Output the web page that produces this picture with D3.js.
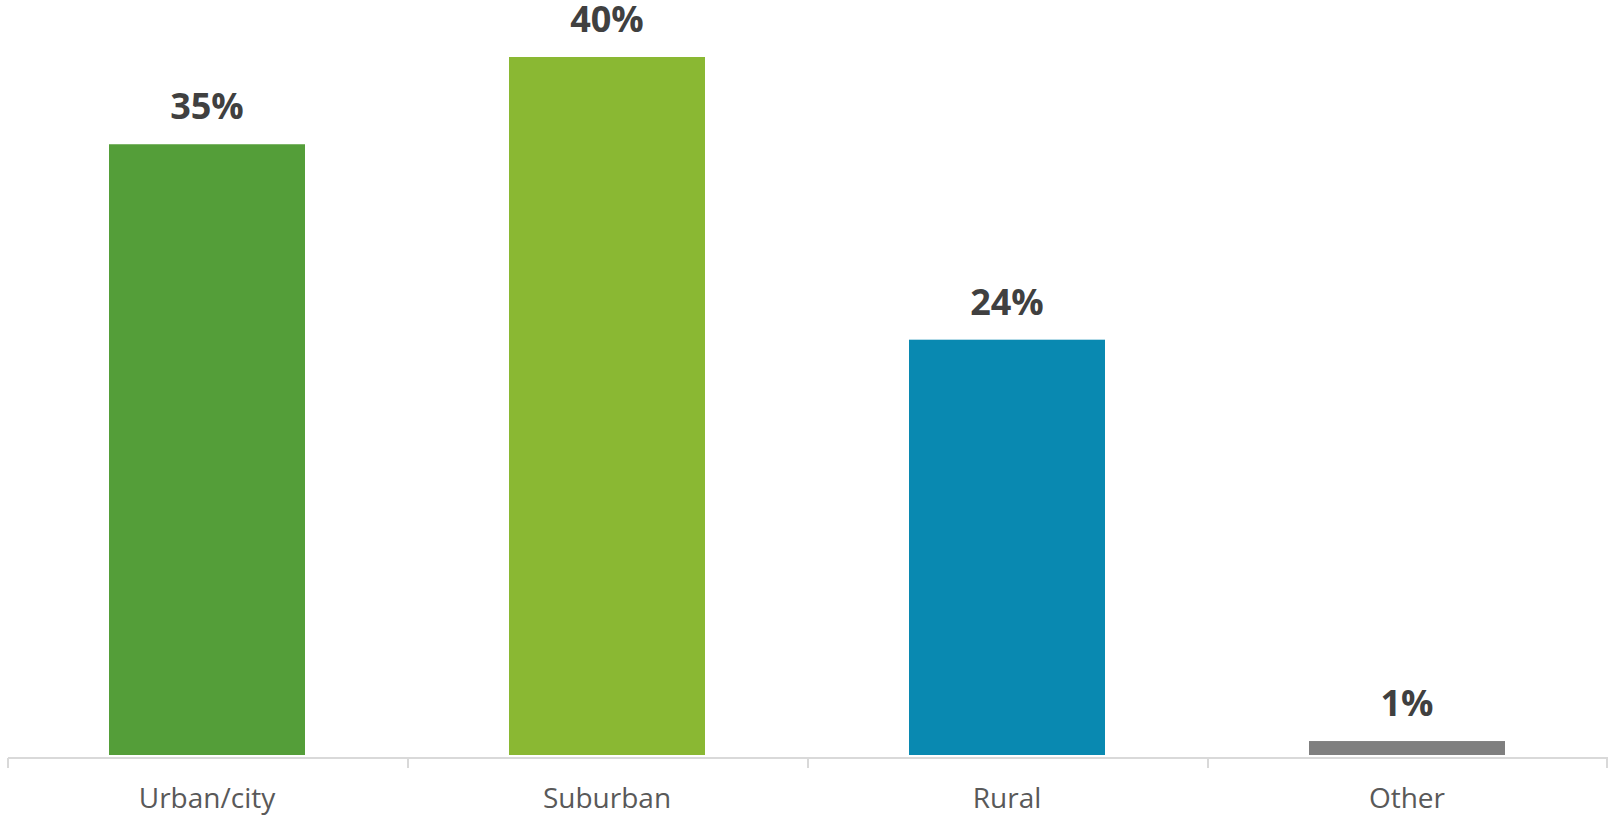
<!DOCTYPE html>
<html>
<head>
<meta charset="utf-8">
<script src="https://cdn.jsdelivr.net/npm/d3@7"></script>
<style>
  html, body { margin: 0; padding: 0; background: #fff; }
  svg { display: block; }
</style>
</head>
<body>
<div id="chart"></div>
<script>
const categories = ["Urban/city", "Suburban", "Rural", "Other"];
const values = [35, 40, 23.8, 0.8];
const valueLabels = ["35%", "40%", "24%", "1%"];
const barColors = ["#549E39", "#8AB833", "#0989B1", "#7F7F7F"];

const width = 1608, height = 817;
const x0 = 8, x1 = 1608;
const yBase = 755, yTop = 57;

const svg = d3.select("#chart").append("svg")
    .attr("width", width)
    .attr("height", height);

const x = d3.scaleBand()
    .domain(categories)
    .range([x0, x1])
    .paddingInner(0.51)
    .paddingOuter(0.255);

const y = d3.scaleLinear().domain([0, 40]).range([yBase, yTop]);

// bars
svg.selectAll("rect.bar").data(categories).join("rect")
    .attr("class", "bar")
    .attr("x", d => x(d) - 1)
    .attr("width", x.bandwidth())
    .attr("y", (d, i) => y(values[i]))
    .attr("height", (d, i) => yBase - y(values[i]))
    .attr("fill", (d, i) => barColors[i]);

// axis line + ticks at band boundaries
const axisY = 758;
svg.append("line")
    .attr("x1", x0).attr("x2", x1)
    .attr("y1", axisY).attr("y2", axisY)
    .attr("stroke", "#D9D9D9").attr("stroke-width", 2);

const bounds = d3.range(categories.length + 1).map(i => x0 + i * x.step());
svg.selectAll("line.tick").data(bounds).join("line")
    .attr("class", "tick")
    .attr("x1", d => Math.min(d, x1 - 1)).attr("x2", d => Math.min(d, x1 - 1))
    .attr("y1", axisY).attr("y2", 768)
    .attr("stroke", "#D9D9D9").attr("stroke-width", 2);

// value labels
svg.selectAll("text.val").data(categories).join("text")
    .attr("class", "val")
    .attr("x", d => x(d) - 1 + x.bandwidth() / 2)
    .attr("y", (d, i) => y(values[i]) - 25)
    .attr("text-anchor", "middle")
    .style("font-family", "'Open Sans', sans-serif")
    .style("font-weight", "bold")
    .style("font-size", "36px")
    .attr("fill", "#404040")
    .text((d, i) => valueLabels[i]);

// category labels
svg.selectAll("text.cat").data(categories).join("text")
    .attr("class", "cat")
    .attr("x", d => x(d) - 1 + x.bandwidth() / 2)
    .attr("y", 808)
    .attr("text-anchor", "middle")
    .style("font-family", "'Open Sans', sans-serif")
    .style("font-size", "28px")
    .attr("fill", "#595959")
    .text(d => d);
</script>
</body>
</html>
